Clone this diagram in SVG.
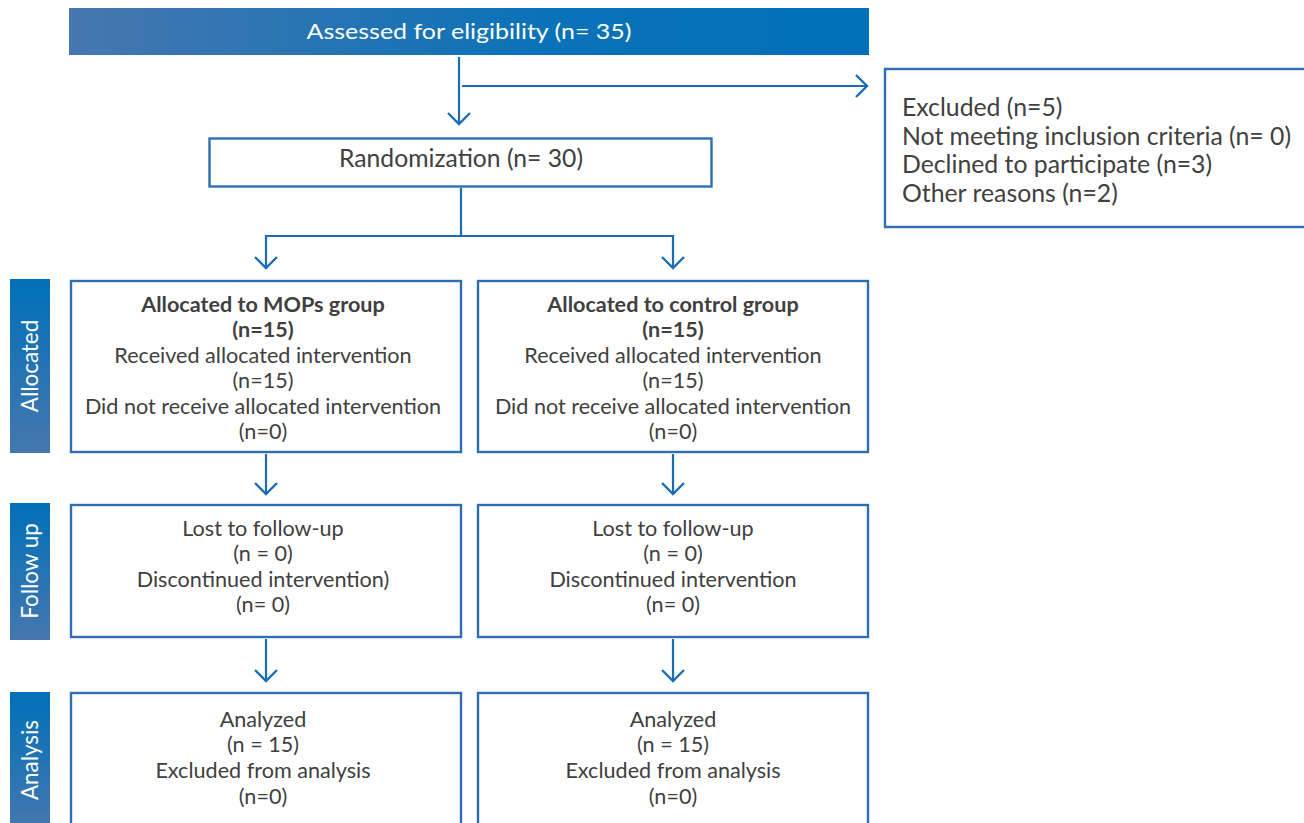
<svg xmlns="http://www.w3.org/2000/svg" width="1304" height="823" viewBox="0 0 1304 823">
<defs>
<linearGradient id="gh" x1="0" y1="0" x2="1" y2="0">
<stop offset="0" stop-color="#4677af"/>
<stop offset="0.6" stop-color="#0a72b8"/>
<stop offset="1" stop-color="#0070b9"/>
</linearGradient>
<linearGradient id="gv" x1="0" y1="0" x2="0" y2="1">
<stop offset="0" stop-color="#0070b9"/>
<stop offset="1" stop-color="#4677af"/>
</linearGradient>
<marker id="ah" viewBox="0 0 24 24" refX="12" refY="12" markerWidth="24" markerHeight="24" markerUnits="userSpaceOnUse" orient="auto">
<path d="M1,1 L12,12 L1,23" fill="none" stroke="#1a6db5" stroke-width="2.4"/>
</marker>
</defs>
<style>
.box{fill:#fff;stroke:#2d6fb2;stroke-width:2.4}
.t{font-family:Lato,"Open Sans","Noto Sans",sans-serif;font-size:21.6px;fill:#404040;text-anchor:middle}
.r{font-size:24.7px}
.b{font-weight:bold}
.ex{font-family:Lato,"Open Sans","Noto Sans",sans-serif;font-size:24.8px;fill:#404040}
.side{font-family:Lato,"Open Sans","Noto Sans",sans-serif;font-size:22.4px;fill:#fff;text-anchor:middle}
.c{fill:none;stroke:#1a6db5;stroke-width:2.2}
</style>
<g id="assessed">
<rect x="69" y="8" width="800" height="47" fill="url(#gh)"/>
<text x="469" y="39" font-family="Lato,'Open Sans',sans-serif" font-size="22" fill="#fff" text-anchor="middle" textLength="325" lengthAdjust="spacingAndGlyphs">Assessed for eligibility (n= 35)</text>
</g>
<g id="excluded">
<rect class="box" x="885" y="69" width="430" height="158"/>
<text class="ex" x="902" y="116">Excluded (n=5)</text>
<text class="ex" x="902" y="145">Not meeting inclusion criteria (n= 0)</text>
<text class="ex" x="902" y="173">Declined to participate (n=3)</text>
<text class="ex" x="902" y="202">Other reasons (n=2)</text>
</g>
<g id="randomization">
<rect class="box" x="209.5" y="138.5" width="502" height="48"/>
<text class="t r" x="461" y="166.5">Randomization (n= 30)</text>
</g>
<g id="side-allocated">
<rect x="10" y="279" width="40" height="174" fill="url(#gv)"/>
<text class="side" transform="translate(38 366) rotate(-90)">Allocated</text>
</g>
<g id="side-followup">
<rect x="10" y="503" width="40" height="137" fill="url(#gv)"/>
<text class="side" transform="translate(38 571) rotate(-90)">Follow up</text>
</g>
<g id="side-analysis">
<rect x="10" y="692" width="40" height="140" fill="url(#gv)"/>
<text class="side" transform="translate(38 760) rotate(-90)">Analysis</text>
</g>
<g id="alloc-mops">
<rect class="box" x="71" y="281" width="390" height="171"/>
<text class="t b" x="263" y="312">Allocated to MOPs group</text>
<text class="t b" x="263" y="337">(n=15)</text>
<text class="t" x="263" y="363">Received allocated intervention</text>
<text class="t" x="263" y="388">(n=15)</text>
<text class="t" x="263" y="414">Did not receive allocated intervention</text>
<text class="t" x="263" y="439">(n=0)</text>
</g>
<g id="alloc-control">
<rect class="box" x="478" y="281" width="390" height="171"/>
<text class="t b" x="673" y="312">Allocated to control group</text>
<text class="t b" x="673" y="337">(n=15)</text>
<text class="t" x="673" y="363">Received allocated intervention</text>
<text class="t" x="673" y="388">(n=15)</text>
<text class="t" x="673" y="414">Did not receive allocated intervention</text>
<text class="t" x="673" y="439">(n=0)</text>
</g>
<g id="follow-mops">
<rect class="box" x="71" y="505" width="390" height="132"/>
<text class="t" x="263" y="536">Lost to follow-up</text>
<text class="t" x="263" y="561">(n = 0)</text>
<text class="t" x="263" y="587">Discontinued intervention)</text>
<text class="t" x="263" y="612">(n= 0)</text>
</g>
<g id="follow-control">
<rect class="box" x="478" y="505" width="390" height="132"/>
<text class="t" x="673" y="536">Lost to follow-up</text>
<text class="t" x="673" y="561">(n = 0)</text>
<text class="t" x="673" y="587">Discontinued intervention</text>
<text class="t" x="673" y="612">(n= 0)</text>
</g>
<g id="analysis-mops">
<rect class="box" x="71" y="693" width="390" height="140"/>
<text class="t" x="263" y="727">Analyzed</text>
<text class="t" x="263" y="752">(n = 15)</text>
<text class="t" x="263" y="778">Excluded from analysis</text>
<text class="t" x="263" y="804">(n=0)</text>
</g>
<g id="analysis-control">
<rect class="box" x="478" y="693" width="390" height="140"/>
<text class="t" x="673" y="727">Analyzed</text>
<text class="t" x="673" y="752">(n = 15)</text>
<text class="t" x="673" y="778">Excluded from analysis</text>
<text class="t" x="673" y="804">(n=0)</text>
</g>
<g id="connectors">
<path class="c" d="M459,57 V124" marker-end="url(#ah)"/>
<path class="c" d="M462,86 H867" marker-end="url(#ah)"/>
<path class="c" d="M461,188 V236 M266,236 H673"/>
<path class="c" d="M266,235 V268" marker-end="url(#ah)"/>
<path class="c" d="M673,235 V268" marker-end="url(#ah)"/>
<path class="c" d="M266,454 V494" marker-end="url(#ah)"/>
<path class="c" d="M673,454 V494" marker-end="url(#ah)"/>
<path class="c" d="M266,639 V681" marker-end="url(#ah)"/>
<path class="c" d="M673,639 V681" marker-end="url(#ah)"/>
</g>
</svg>
